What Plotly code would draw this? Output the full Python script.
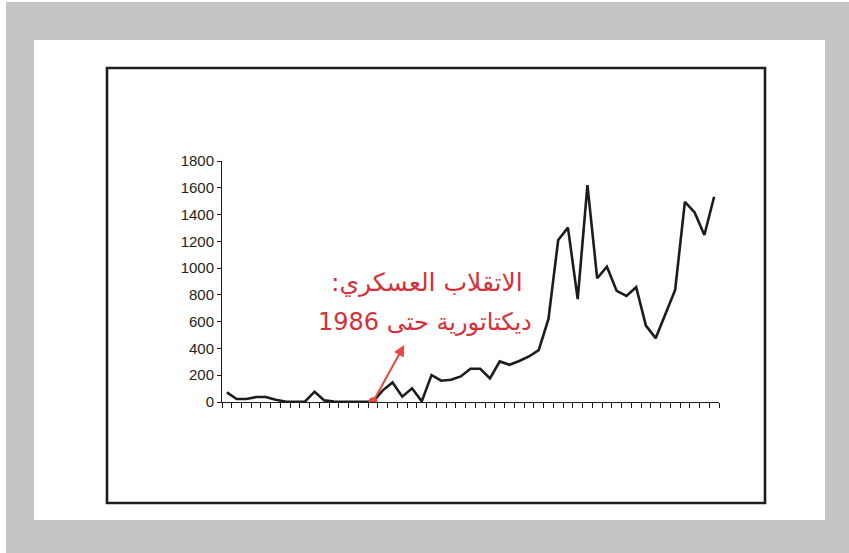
import plotly.graph_objects as go

# Annual series (51 periods); index 15 marks the military coup
periods = list(range(51))
values = [72, 22, 22, 37, 37, 17, 3, 2, 2, 77,
          12, 3, 2, 2, 2, 2, 87, 146, 40, 102,
          5, 201, 159, 166, 191, 248, 248, 176, 303, 278,
          306, 340, 388, 621, 1210, 1302, 768, 1620, 924, 1011,
          830, 792, 857, 571, 477, 663, 837, 1495, 1416, 1247,
          1533]
coup_index = 15
y_ticks = [0, 200, 400, 600, 800, 1000, 1200, 1400, 1600, 1800]

line1 = "\u202bالاتقلاب العسكري:\u202c"
line2 = "\u202bديكتاتورية حتى 1986\u202c"

W, H = 849, 553
L, R, T, B = 222, 130, 161, 151
PW, PH = W - L - R, H - T - B


def px(x):
    return (x - L) / PW


def py(y):
    return (H - B - y) / PH


RED_TEXT = "#d5303a"
RED_ARROW = "#e8463f"
INK = "#1c1c1c"

fig = go.Figure()
fig.add_trace(go.Scatter(
    x=periods, y=values, mode="lines",
    line=dict(color=INK, width=2.6), hoverinfo="skip", showlegend=False,
))
fig.add_trace(go.Scatter(
    x=[periods[coup_index]], y=[values[coup_index]], mode="markers",
    marker=dict(color=RED_ARROW, size=9), hoverinfo="skip", showlegend=False,
))

shapes = [
    dict(type="rect", xref="paper", yref="paper", x0=px(6), x1=px(849), y0=py(2), y1=py(553),
         fillcolor="#c3c4c3", line=dict(width=0), layer="below"),
    dict(type="rect", xref="paper", yref="paper", x0=px(34), x1=px(825), y0=py(40), y1=py(520),
         fillcolor="white", line=dict(width=0), layer="below"),
    dict(type="rect", xref="paper", yref="paper", x0=px(107), x1=px(765), y0=py(68), y1=py(503),
         fillcolor="rgba(0,0,0,0)", line=dict(color="#1e1e1e", width=2.6), layer="below"),
]

annotations = [
    dict(x=18.2, y=425, xref="x", yref="y",
         ax=periods[coup_index], ay=values[coup_index], axref="x", ayref="y",
         text="", showarrow=True, arrowhead=2, arrowsize=1.1, arrowwidth=2,
         arrowcolor=RED_ARROW, standoff=0),
    dict(x=px(427), y=py(282), xref="paper", yref="paper", text=line1, showarrow=False,
         font=dict(family="DejaVu Sans", size=25, color=RED_TEXT), xanchor="center", yanchor="middle"),
    dict(x=px(425), y=py(322), xref="paper", yref="paper", text=line2, showarrow=False,
         font=dict(family="DejaVu Sans", size=24, color=RED_TEXT), xanchor="center", yanchor="middle"),
]

fig.update_layout(
    width=W, height=H,
    margin=dict(l=L, r=R, t=T, b=B, pad=0),
    paper_bgcolor="white", plot_bgcolor="rgba(0,0,0,0)",
    shapes=shapes, annotations=annotations,
    xaxis=dict(
        range=[-0.5, 50.5], tickmode="array", tickvals=[i - 0.5 for i in range(52)],
        showticklabels=False, ticks="outside", ticklen=5, tickcolor=INK, tickwidth=1,
        showline=True, linecolor=INK, linewidth=1, showgrid=False, zeroline=False,
    ),
    yaxis=dict(
        range=[0, 1800], tickmode="array", tickvals=y_ticks,
        ticks="outside", ticklen=4, tickcolor=INK, tickwidth=1,
        showline=True, linecolor=INK, linewidth=1, showgrid=False, zeroline=False,
        tickfont=dict(family="Liberation Sans, Arial", size=15, color="#231f20"),
    ),
)

fig.write_html("out.html")
